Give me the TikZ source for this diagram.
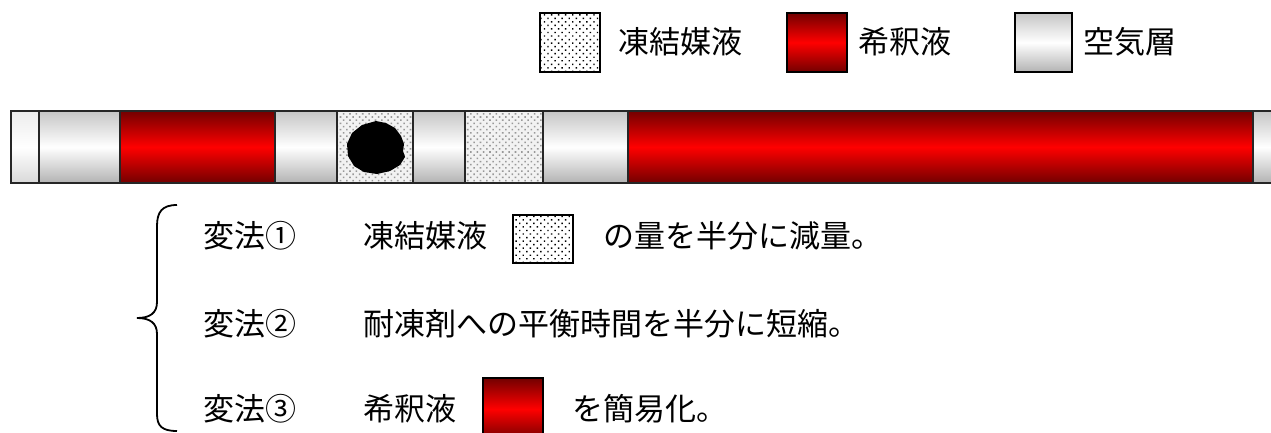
\documentclass[tikz,border=0pt]{standalone}
\usepackage{fontspec}
\newfontfamily\jp{Noto Sans CJK JP}
\usetikzlibrary{patterns.meta}
\tikzset{
  jtext/.style={font=\jp\fontsize{31}{36}\selectfont, inner sep=0pt, anchor=west},
  airfill/.style={top color=gray!45, bottom color=gray!60, middle color=white},
  redfill/.style={top color=red!45!black, bottom color=red!45!black, middle color=red},
  dotfill/.style={preaction={fill=white}, pattern={Dots[angle=45,distance=5pt,radius=1pt]}, pattern color=black},
  dotbar/.style={preaction={fill=gray!10}, pattern={Dots[angle=45,distance=4.5pt,radius=1.1pt]}, pattern color=gray!80},
  boxline/.style={draw=black, line width=1.6pt},
  segline/.style={draw=black!85, line width=2pt},
}
\begin{document}
\begin{tikzpicture}[x=1pt,y=-1pt]
\useasboundingbox (0,0) rectangle (1271,432);
\clip (0,0) rectangle (1271,432);
% legend
\path[dotfill, boxline] (540,13) rectangle (600,72);
\node[jtext] (lg1) at (618,42) {凍結媒液};
\path[redfill, boxline] (787,13) rectangle (847,72);
\node[jtext] (lg2) at (858,42) {希釈液};
\path[airfill, boxline] (1015,13) rectangle (1072,72);
\node[jtext] (lg3) at (1083,42) {空気層};
% bar
\path[top color=gray!15, bottom color=gray!30, middle color=white, segline] (11,111) rectangle (39,183);
\path[airfill, segline] (39,111) rectangle (120,183);
\path[redfill, segline] (120,111) rectangle (275,183);
\path[airfill, segline] (275,111) rectangle (337,183);
\path[dotbar, segline] (337,111) rectangle (413,183);
\fill[black] (376,121) -- (386,123) -- (395,128) -- (401,136) -- (404,144) -- (403,151) -- (405,157) -- (400,165) -- (390,171) -- (377,174) -- (364,172) -- (354,166) -- (348,156) -- (347,144) -- (352,133) -- (362,125) -- cycle;
\path[airfill, segline] (413,111) rectangle (465,183);
\path[dotbar, segline] (465,111) rectangle (543,183);
\path[airfill, segline] (543,111) rectangle (628,183);
\path[redfill, segline] (628,111) rectangle (1253,183);
\path[airfill, segline] (1253,111) rectangle (1290,183);
% brace
\draw[line width=1.8pt] (177,205) .. controls (162,205) and (157,212) .. (157,226) -- (157,302) .. controls (157,313) and (150,318) .. (137,318) .. controls (150,318) and (157,323) .. (157,334) -- (157,414) .. controls (157,426) and (162,431) .. (177,431);
% rows
\node[jtext] (m1) at (203,236) {変法①};
\node[jtext] (t1) at (363,236) {凍結媒液};
\path[dotfill, boxline] (513,215) rectangle (573,263);
\node[jtext] (t1b) at (603,236) {の量を半分に減量。};
\node[jtext] (m2) at (203,324) {変法②};
\node[jtext] (t2) at (363,324) {耐凍剤への平衡時間を半分に短縮。};
\node[jtext] (m3) at (203,409) {変法③};
\node[jtext] (t3) at (363,409) {希釈液};
\path[redfill, boxline] (483,378) rectangle (543,440);
\node[jtext] (t3b) at (572,409) {を簡易化。};
\end{tikzpicture}
\end{document}
